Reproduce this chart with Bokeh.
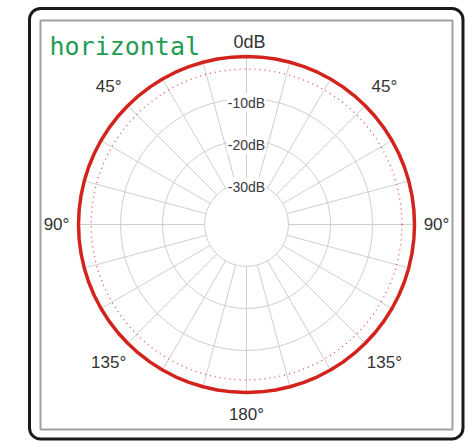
import numpy as np
from bokeh.plotting import figure
from bokeh.models import Range1d, BoxAnnotation
from bokeh.core.properties import value
from bokeh.embed import file_html
from bokeh.resources import INLINE

# ---------------- data ----------------
title_text = "horizontal"
top_label = "0dB"
db_min = -40.0
db_max = 0.0
pattern_angle_deg = [0, 5, 10, 15, 20, 25, 30, 35, 40, 45, 50, 55, 60, 65, 70,
                     75, 80, 85, 90, 95, 100, 105, 110, 115, 120, 125, 130,
                     135, 140, 145, 150, 155, 160, 165, 170, 175, 180, 185,
                     190, 195, 200, 205, 210, 215, 220, 225, 230, 235, 240,
                     245, 250, 255, 260, 265, 270, 275, 280, 285, 290, 295,
                     300, 305, 310, 315, 320, 325, 330, 335, 340, 345, 350,
                     355, 360]
pattern_level_db = [0, 0, 0, 0, 0, 0, 0, 0, 0, 0, 0, 0, 0, 0, 0,
                    0, 0, 0, 0, 0, 0, 0, 0, 0, 0, 0, 0,
                    0, 0, 0, 0, 0, 0, 0, 0, 0, 0, 0,
                    0, 0, 0, 0, 0, 0, 0, 0, 0, 0, 0,
                    0, 0, 0, 0, 0, 0, 0, 0, 0, 0, 0,
                    0, 0, 0, 0, 0, 0, 0, 0, 0, 0, 0,
                    0, 0]
ring_levels_db = [-10, -20, -30]
ring_labels = ["-10dB", "-20dB", "-30dB"]
reference_level_db = -3
spoke_angles_deg = [0, 15, 30, 45, 60, 75, 90, 105, 120, 135, 150, 165,
                    180, 195, 210, 225, 240, 255, 270, 285, 300, 315, 330, 345]
angle_label_deg = [45, 315, 90, 270, 135, 225, 180]
angle_label_text = ["45°", "45°", "90°", "90°", "135°", "135°", "180°"]

# ---------------- geometry / style ----------------
R = 168.0  # pixels for full scale


def rad(db):
    return (np.asarray(db, dtype=float) - db_min) / (db_max - db_min) * R


def xy(theta_deg, r):
    t = np.deg2rad(np.asarray(theta_deg, dtype=float))
    return r * np.sin(t), r * np.cos(t)


W, H = 467, 442
p = figure(width=W, height=H, output_backend="svg", toolbar_location=None,
           x_range=Range1d(-246, 221), y_range=Range1d(-218, 224),
           min_border=0, outline_line_color=None)
p.axis.visible = False
p.grid.visible = False
p.background_fill_color = "white"
p.border_fill_color = "white"

# frames
p.add_layout(BoxAnnotation(left=-217, right=216.5, top=216, bottom=-214.5,
                           fill_color=None, fill_alpha=0,
                           line_color="#1a1a1a", line_alpha=1.0, line_width=3,
                           border_radius=11))
p.add_layout(BoxAnnotation(left=-206, right=206, top=204, bottom=-205,
                           fill_color=None, fill_alpha=0,
                           line_color="#a0a0a0", line_alpha=1.0, line_width=2))

grid_color = "#cfcfcf"

# spokes
sx0, sy0 = xy(spoke_angles_deg, rad(ring_levels_db[-1]))
sx1, sy1 = xy(spoke_angles_deg, rad(db_max))
p.segment(x0=sx0, y0=sy0, x1=sx1, y1=sy1, line_color=grid_color, line_width=1)

# rings
p.circle(x=[0] * len(ring_levels_db), y=[0] * len(ring_levels_db),
         radius=rad(ring_levels_db), fill_color=None,
         line_color=grid_color, line_width=1)

# -3 dB reference ring
p.circle(x=[0], y=[0], radius=[float(rad(reference_level_db))], fill_color=None,
         line_color="#e8504a", line_width=1.3, line_dash="1 4")

# pattern
px, py = xy(pattern_angle_deg, rad(pattern_level_db))
p.line(px, py, line_color="#d2231d", line_width=3.5, line_join="round")

# dB labels
lr = rad(ring_levels_db) - 4
p.text(x=[0] * len(ring_labels), y=lr, text=ring_labels,
       text_font=value("Liberation Sans"), text_font_size="14px",
       text_color="#3a3a3a", text_align="center", text_baseline="middle",
       background_fill_color="white", padding=1)

# top 0dB label
p.text(x=[3], y=[183], text=[top_label], text_font=value("Liberation Sans"),
       text_font_size="18px", text_color="#333333",
       text_align="center", text_baseline="middle")

# angle labels
label_r = np.where(np.asarray(angle_label_deg) % 90 == 45, 195.0, 190.0)
ax, ay = xy(angle_label_deg, label_r)
p.text(x=ax, y=ay, text=angle_label_text,
       text_font=value("Liberation Sans"),
       text_font_size="17px", text_color="#333333",
       text_align="center", text_baseline="middle")

# title
p.text(x=[-197], y=[178], text=[title_text],
       text_font=value("DejaVu Sans Mono"), text_font_size="25px",
       text_color="#1e9c52", text_align="left", text_baseline="alphabetic")

open("out.html", "w").write(file_html(p, INLINE))
